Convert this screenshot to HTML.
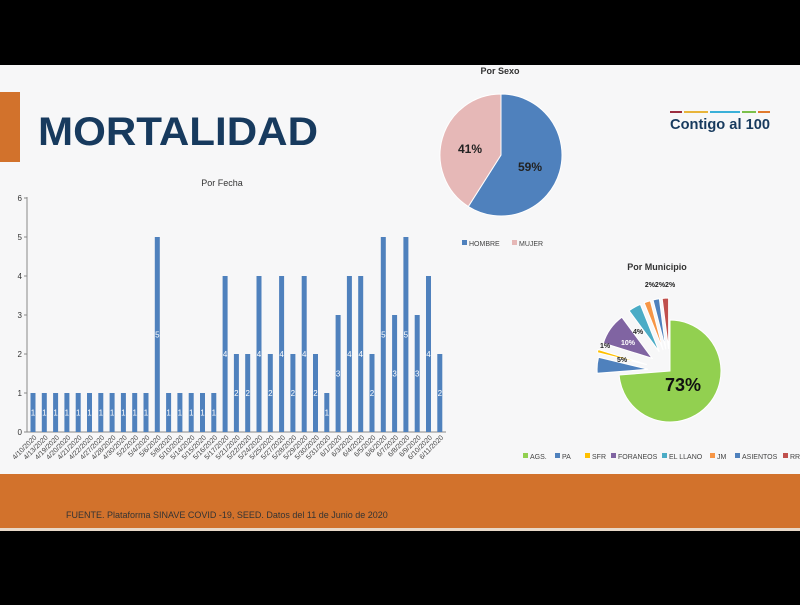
<!DOCTYPE html>
<html><head><meta charset="utf-8"><style>
body{margin:0;width:800px;height:600px;overflow:hidden;background:#000;font-family:"Liberation Sans",sans-serif}
</style></head><body>
<svg id="s" width="800" height="600" xmlns="http://www.w3.org/2000/svg" font-family="Liberation Sans, sans-serif">
<rect x="0" y="0" width="800" height="600" fill="#000"/>
<rect x="0" y="65" width="800" height="466" fill="#f7f7f8"/>
<rect x="0" y="474" width="800" height="54" fill="#d2722c"/>
<rect x="0" y="528" width="800" height="3" fill="#e8d8c8"/>
<rect x="0" y="92" width="20" height="70" fill="#d2722c"/>
<text x="38" y="145" font-size="40" font-weight="bold" fill="#173a5e" textLength="280" lengthAdjust="spacingAndGlyphs">MORTALIDAD</text>
<g>
<rect x="670" y="111" width="12" height="2" fill="#9b2d3f"/><rect x="684" y="111" width="24" height="2" fill="#e8b43a"/><rect x="710" y="111" width="30" height="2" fill="#3ab0d8"/><rect x="742" y="111" width="14" height="2" fill="#7cc04a"/><rect x="758" y="111" width="12" height="2" fill="#e07a2e"/>
<text x="670" y="129" font-size="15" font-weight="bold" fill="#173a5e" textLength="100" lengthAdjust="spacingAndGlyphs">Contigo al 100</text>
</g>
<text x="500" y="74" font-size="9" font-weight="bold" fill="#333" text-anchor="middle">Por Sexo</text>
<text x="222" y="186" font-size="9" fill="#333" text-anchor="middle">Por Fecha</text>
<text x="657" y="270" font-size="9" font-weight="bold" fill="#333" text-anchor="middle">Por Municipio</text>
<g id="bars"></g>
<g id="sex"></g>
<g id="mun"></g>
<text x="66" y="518" font-size="9" fill="#333">FUENTE. Plataforma SINAVE COVID -19, SEED. Datos del 11 de Junio de 2020</text>
</svg>
<script>
var NS="http://www.w3.org/2000/svg";
function el(p,t,a,txt){var e=document.createElementNS(NS,t);for(var k in a)e.setAttribute(k,a[k]);if(txt!==undefined)e.textContent=txt;p.appendChild(e);return e;}
var g=document.getElementById("bars");
var vals=[1,1,1,1,1,1,1,1,1,1,1,5,1,1,1,1,1,4,2,2,4,2,4,2,4,2,1,3,4,4,2,5,3,5,3,4,2];
var dates=["4/10","4/13","4/19","4/20","4/21","4/22","4/27","4/28","4/30","5/2","5/4","5/6","5/8","5/10","5/14","5/15","5/16","5/17","5/21","5/22","5/24","5/25","5/27","5/28","5/29","5/30","5/31","6/1","6/3","6/4","6/5","6/6","6/7","6/8","6/9","6/10","6/11"];
var y0=432,u=39;
el(g,"line",{x1:27,y1:197,x2:27,y2:y0,stroke:"#888","stroke-width":1});
el(g,"line",{x1:27,y1:y0,x2:446,y2:y0,stroke:"#888","stroke-width":1});
for(var k=0;k<=6;k++){el(g,"text",{x:22,y:y0-k*u+3,"font-size":8,fill:"#333","text-anchor":"end"},k);el(g,"line",{x1:24,y1:y0-k*u,x2:27,y2:y0-k*u,stroke:"#888"});}
for(var i=0;i<vals.length;i++){var cx=33+i*11.3,v=vals[i];
el(g,"rect",{x:cx-2.5,y:y0-v*u,width:5,height:v*u,fill:"#4f81bd"});
el(g,"text",{x:cx,y:y0-v*u/2+3,"font-size":8,fill:"#fff","text-anchor":"middle"},v);
el(g,"text",{x:0,y:0,"font-size":7,fill:"#444","text-anchor":"end",transform:"translate("+(cx+4)+","+(y0+6)+") rotate(-45)"},dates[i]+"/2020");}
function arc(p,cx,cy,r,a0,a1,fill){var t=Math.PI/180;var x0=cx+r*Math.cos(a0*t),yy0=cy+r*Math.sin(a0*t),x1=cx+r*Math.cos(a1*t),y1=cy+r*Math.sin(a1*t);
el(p,"path",{d:"M"+cx+","+cy+"L"+x0+","+yy0+"A"+r+","+r+" 0 "+((a1-a0)>180?1:0)+" 1 "+x1+","+y1+"Z",fill:fill,stroke:"#fff","stroke-width":1});}
var s=document.getElementById("sex");
arc(s,501,155,61,-90,-90+212.4,"#4f81bd");arc(s,501,155,61,-90+212.4,270,"#e6b8b7");
el(s,"text",{x:530,y:171,"font-size":12,"font-weight":"bold",fill:"#222","text-anchor":"middle"},"59%");
el(s,"text",{x:470,y:153,"font-size":12,"font-weight":"bold",fill:"#222","text-anchor":"middle"},"41%");
el(s,"rect",{x:462,y:240,width:5,height:5,fill:"#4f81bd"});el(s,"text",{x:469,y:246,"font-size":7,fill:"#444"},"HOMBRE");
el(s,"rect",{x:512,y:240,width:5,height:5,fill:"#e6b8b7"});el(s,"text",{x:519,y:246,"font-size":7,fill:"#444"},"MUJER");
var m=document.getElementById("mun");
var sl=[[73,"#92d050",0],[5,"#4f81bd",22],[1,"#ffc000",24],[10,"#8064a2",22],[4,"#4bacc6",22],[2,"#f79646",22],[2,"#4f81bd",22],[2,"#c0504d",22]];
var a=-90,cx=670,cy=371;
for(var j=0;j<sl.length;j++){var d=sl[j][0]*360/99,mid=(a+d/2)*Math.PI/180,o=sl[j][2];
arc(m,cx+o*Math.cos(mid),cy+o*Math.sin(mid),51,a,a+d,sl[j][1]);a+=d;}
el(m,"text",{x:683,y:391,"font-size":18,"font-weight":"bold",fill:"#111","text-anchor":"middle"},"73%");
el(m,"text",{x:622,y:362,"font-size":7,"font-weight":"bold",fill:"#222","text-anchor":"middle"},"5%");
el(m,"text",{x:605,y:348,"font-size":7,"font-weight":"bold",fill:"#222","text-anchor":"middle"},"1%");
el(m,"text",{x:628,y:345,"font-size":7,"font-weight":"bold",fill:"#fff","text-anchor":"middle"},"10%");
el(m,"text",{x:638,y:334,"font-size":7,"font-weight":"bold",fill:"#222","text-anchor":"middle"},"4%");
el(m,"text",{x:660,y:287,"font-size":7,"font-weight":"bold",fill:"#222","text-anchor":"middle"},"2%2%2%");
var lg=[["AGS.",523,"#92d050"],["PA",555,"#4f81bd"],["SFR",585,"#ffc000"],["FORANEOS",611,"#8064a2"],["EL LLANO",662,"#4bacc6"],["JM",710,"#f79646"],["ASIENTOS",735,"#4f81bd"],["RR",783,"#c0504d"]];
lg.forEach(function(l){el(m,"rect",{x:l[1],y:453,width:5,height:5,fill:l[2]});el(m,"text",{x:l[1]+7,y:459,"font-size":7,fill:"#444"},l[0]);});
</script>
</body></html>
